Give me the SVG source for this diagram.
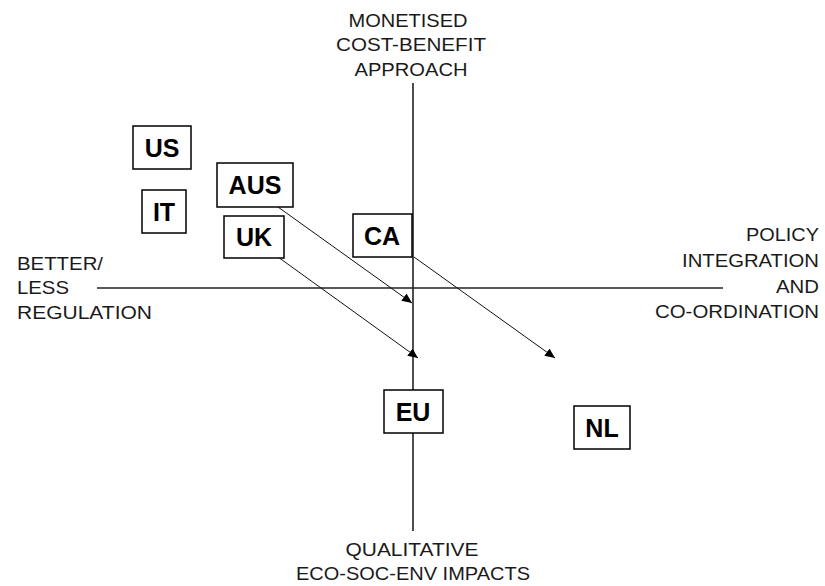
<svg xmlns="http://www.w3.org/2000/svg" width="825" height="586" viewBox="0 0 825 586">
<style>
.lbl{font-family:"Liberation Sans",Arial,sans-serif;font-size:18px;fill:#1a1a1a}
.box rect{fill:#fff;stroke:#000;stroke-width:1.5}
.box text{font-family:"Liberation Sans",Arial,sans-serif;font-size:25px;font-weight:bold;fill:#000;text-anchor:middle}
.axis{stroke:#222;stroke-width:1.6;fill:none}
.arr{stroke:#111;stroke-width:1;fill:none;marker-end:url(#ah)}
</style>
<defs>
<marker id="ah" markerUnits="userSpaceOnUse" markerWidth="10" markerHeight="9" refX="10" refY="4.5" orient="auto">
<path d="M0,0 L10,4.5 L0,9 z" fill="#000"/>
</marker>
</defs>
<rect width="825" height="586" fill="#fff"/>
<g id="axes">
<line class="axis" x1="413" y1="83" x2="413" y2="531"/>
<line class="axis" x1="97" y1="288" x2="723" y2="288"/>
</g>
<g id="connectors">
<line class="arr" x1="278" y1="207" x2="412" y2="303"/>
<line class="arr" x1="278" y1="257" x2="418" y2="358"/>
<line class="arr" x1="414" y1="257" x2="555" y2="358"/>
</g>
<g id="axis-labels" class="lbl">
<text x="408" y="27" text-anchor="middle" textLength="119" lengthAdjust="spacingAndGlyphs">MONETISED</text>
<text x="411" y="51" text-anchor="middle" textLength="150" lengthAdjust="spacingAndGlyphs">COST-BENEFIT</text>
<text x="411" y="76" text-anchor="middle" textLength="113" lengthAdjust="spacingAndGlyphs">APPROACH</text>
<text x="412" y="556" text-anchor="middle" textLength="133" lengthAdjust="spacingAndGlyphs">QUALITATIVE</text>
<text x="413" y="580" text-anchor="middle" textLength="234" lengthAdjust="spacingAndGlyphs">ECO-SOC-ENV IMPACTS</text>
<text x="17" y="270" textLength="86" lengthAdjust="spacingAndGlyphs">BETTER/</text>
<text x="17" y="294" textLength="52" lengthAdjust="spacingAndGlyphs">LESS</text>
<text x="17" y="319" textLength="135" lengthAdjust="spacingAndGlyphs">REGULATION</text>
<text x="819" y="241" text-anchor="end" textLength="73" lengthAdjust="spacingAndGlyphs">POLICY</text>
<text x="819" y="267" text-anchor="end" textLength="137" lengthAdjust="spacingAndGlyphs">INTEGRATION</text>
<text x="819" y="293" text-anchor="end" textLength="43" lengthAdjust="spacingAndGlyphs">AND</text>
<text x="819" y="318" text-anchor="end" textLength="164" lengthAdjust="spacingAndGlyphs">CO-ORDINATION</text>
</g>
<g id="US" class="box"><rect x="133" y="126" width="58" height="43"/><text x="162" y="157">US</text></g>
<g id="IT" class="box"><rect x="142" y="190" width="44" height="43"/><text x="164" y="221">IT</text></g>
<g id="AUS" class="box"><rect x="217" y="163" width="76" height="44"/><text x="255" y="194">AUS</text></g>
<g id="UK" class="box"><rect x="224" y="216" width="60" height="42"/><text x="254" y="246">UK</text></g>
<g id="CA" class="box"><rect x="353" y="214" width="59" height="43"/><text x="382" y="245">CA</text></g>
<g id="EU" class="box"><rect x="384" y="390" width="59" height="43"/><text x="413" y="421">EU</text></g>
<g id="NL" class="box"><rect x="574" y="406" width="56" height="43"/><text x="602" y="437">NL</text></g>
</svg>
